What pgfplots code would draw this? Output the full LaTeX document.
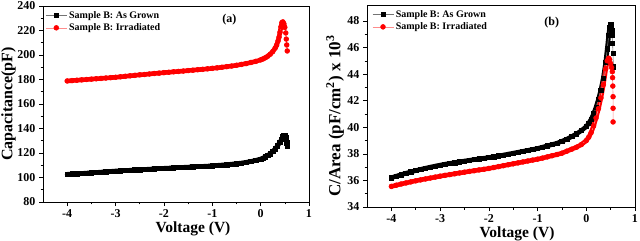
\documentclass[border=0pt]{standalone}
\usepackage{pgfplots}
\pgfplotsset{compat=1.18}
\usepackage{fontspec}
\setmainfont{Liberation Serif}

\pgfplotstableread{
x y
-4.0 102.6
-3.9 102.9
-3.8 103.1
-3.7 103.3
-3.6 103.6
-3.5 103.8
-3.4 104.1
-3.3 104.4
-3.2 104.7
-3.1 105.0
-3.0 105.3
-2.9 105.5
-2.8 105.7
-2.7 105.9
-2.6 106.2
-2.5 106.4
-2.4 106.6
-2.3 106.8
-2.2 107.1
-2.1 107.3
-2.0 107.5
-1.9 107.7
-1.8 107.9
-1.7 108.1
-1.6 108.3
-1.5 108.5
-1.4 108.7
-1.3 108.9
-1.2 109.1
-1.1 109.3
-1.0 109.6
-0.9 109.9
-0.8 110.2
-0.7 110.5
-0.6 110.9
-0.5 111.3
-0.4 111.8
-0.3 112.4
-0.2 113.1
-0.1 114.0
0.0 115.1
0.05 115.9
0.1 116.9
0.15 118.1
0.2 119.5
0.25 121.2
0.3 123.3
0.35 125.8
0.4 128.9
0.43 131.0
0.46 133.2
0.48 134.1
0.50 134.2
0.51 133.6
0.52 132.3
0.53 130.5
0.54 128.4
0.55 126.0
}\agrown

\pgfplotstableread{
x y
-4.0 178.8
-3.9 179.1
-3.8 179.4
-3.7 179.7
-3.6 180.0
-3.5 180.3
-3.4 180.6
-3.3 180.9
-3.2 181.2
-3.1 181.5
-3.0 181.8
-2.9 182.2
-2.8 182.6
-2.7 183.0
-2.6 183.4
-2.5 183.8
-2.4 184.1
-2.3 184.5
-2.2 184.9
-2.1 185.2
-2.0 185.6
-1.9 185.9
-1.8 186.3
-1.7 186.6
-1.6 186.9
-1.5 187.3
-1.4 187.6
-1.3 188.0
-1.2 188.3
-1.1 188.7
-1.0 189.1
-0.9 189.5
-0.8 190.0
-0.7 190.5
-0.6 191.0
-0.5 191.6
-0.4 192.3
-0.3 193.0
-0.2 193.9
-0.1 194.8
0.0 196.0
0.05 196.8
0.1 197.8
0.15 199.1
0.2 200.7
0.25 202.8
0.3 205.6
0.33 208.0
0.36 211.5
0.38 214.5
0.40 218.5
0.42 223.0
0.44 226.5
0.46 227.0
0.48 225.5
0.50 222.5
0.52 218.0
0.53 213.0
0.54 208.2
0.55 203.3
}\airr

\pgfplotstableread{
x y
-4.0 36.20
-3.9 36.32
-3.8 36.43
-3.7 36.54
-3.6 36.64
-3.5 36.74
-3.4 36.83
-3.3 36.92
-3.2 37.00
-3.1 37.08
-3.0 37.15
-2.9 37.22
-2.8 37.28
-2.7 37.34
-2.6 37.40
-2.5 37.46
-2.4 37.51
-2.3 37.57
-2.2 37.62
-2.1 37.67
-2.0 37.72
-1.9 37.78
-1.8 37.84
-1.7 37.91
-1.6 37.98
-1.5 38.05
-1.4 38.12
-1.3 38.19
-1.2 38.26
-1.1 38.33
-1.0 38.4
-0.9 38.5
-0.8 38.6
-0.7 38.7
-0.6 38.8
-0.5 38.95
-0.4 39.1
-0.3 39.3
-0.2 39.5
-0.1 39.75
0.0 40.05
0.05 40.3
0.1 40.6
0.15 41.0
0.2 41.5
0.25 42.1
0.3 42.8
0.35 43.7
0.4 44.9
0.43 45.9
0.46 46.9
0.48 47.5
0.50 47.7
0.51 47.6
0.52 47.3
0.53 46.9
0.54 46.3
0.55 45.55
0.555 44.55
}\bgrown

\pgfplotstableread{
x y
-4.0 35.55
-3.9 35.64
-3.8 35.73
-3.7 35.81
-3.6 35.89
-3.5 35.97
-3.4 36.04
-3.3 36.11
-3.2 36.18
-3.1 36.25
-3.0 36.32
-2.9 36.38
-2.8 36.44
-2.7 36.50
-2.6 36.56
-2.5 36.62
-2.4 36.68
-2.3 36.73
-2.2 36.79
-2.1 36.84
-2.0 36.9
-1.9 36.97
-1.8 37.04
-1.7 37.11
-1.6 37.18
-1.5 37.25
-1.4 37.32
-1.3 37.39
-1.2 37.46
-1.1 37.53
-1.0 37.6
-0.9 37.68
-0.8 37.77
-0.7 37.86
-0.6 37.95
-0.5 38.05
-0.4 38.2
-0.3 38.35
-0.2 38.5
-0.1 38.7
0.0 39.0
0.05 39.25
0.1 39.6
0.15 40.1
0.2 40.7
0.25 41.4
0.3 42.2
0.35 43.2
0.4 44.4
0.43 45.0
0.46 45.2
0.48 45.1
0.50 44.8
0.52 44.5
0.535 44.18
0.54 43.73
0.545 43.1
0.55 42.3
0.55 41.43
0.55 40.4
}\birr

\pgfplotsset{
  mystyle/.style={
    scale only axis,
    xmin=-4.5, xmax=1,
    xtick={-4,-3,-2,-1,0,1},
    minor x tick num=1,
    minor y tick num=1,
    tick align=outside,
    tick pos=left,
    major tick length=4pt,
    minor tick length=2.5pt,
    every tick/.style={black, line width=0.6pt},
    axis line style={line width=0.7pt},
    tick label style={font=\bfseries\fontsize{12}{13}\selectfont},
    /pgf/number format/assume math mode=true,
    legend cell align=left,
    legend style={draw=none, fill=none, font=\bfseries\fontsize{10}{11}\selectfont, row sep=0pt, inner sep=1pt},
    legend image code/.code={\draw[mark repeat=2,mark phase=2] plot coordinates {(0pt,0pt) (10.5pt,0pt) (21pt,0pt)};},
  },
  blk/.style={color=black!55, line width=0.6pt, mark=square*, mark size=2.2pt, mark options={draw=black, fill=black}},
  rd/.style={color=red!45, line width=0.6pt, mark=*, mark size=2.4pt, mark options={draw=red, fill=red}},
  band/.style={line width=4.6pt, line join=round, line cap=round, no marks, forget plot, restrict x to domain=-5:0.51},
}

\begin{document}
\begin{tikzpicture}
\path[use as bounding box] (0,0) rectangle (640pt,241pt);
\begin{axis}[mystyle,
  at={(43pt,39pt)}, anchor=south west, width=266pt, height=196pt,
  ymin=80, ymax=240, ytick={80,100,...,240},
  xlabel={Voltage (V)}, ylabel={Capacitance(pF)},
  every axis x label/.style={at={(axis description cs:0.564,-0.138)}, anchor=center, font=\bfseries\fontsize{15.5}{17}\selectfont},
  every axis y label/.style={at={(axis description cs:-0.13,0.5)}, rotate=90, anchor=center, font=\bfseries\fontsize{16}{18}\selectfont},
  legend style={at={(axis description cs:0.005,0.99)}, anchor=north west},
]
\addplot[band, black] table {\agrown};
\addplot[band, red] table {\airr};
\addplot[blk] table {\agrown};
\addlegendentry{Sample B: As Grown}
\addplot[rd] table {\airr};
\addlegendentry{Sample B: Irradiated}
\node[font=\bfseries\fontsize{12}{13}\selectfont] at (axis cs:-0.646,228.6) {(a)};
\end{axis}

\begin{axis}[mystyle,
  at={(367pt,34pt)}, anchor=south west, width=268pt, height=202pt,
  ymin=34, ymax=49.2, ytick={34,36,...,48},
  xlabel={Voltage (V)}, ylabel={C/Area (pF/cm\textsuperscript{2}) x 10\textsuperscript{3}},
  every axis x label/.style={at={(axis description cs:0.56,-0.135)}, anchor=center, font=\bfseries\fontsize{15.5}{17}\selectfont},
  every axis y label/.style={at={(axis description cs:-0.119,0.45)}, rotate=90, anchor=center, font=\bfseries\fontsize{17}{19}\selectfont},
  legend style={at={(axis description cs:0.015,0.99)}, anchor=north west},
]
\addplot[band, black] table {\bgrown};
\addplot[band, red, restrict x to domain=-5:0.47] table {\birr};
\addplot[blk] table {\bgrown};
\addlegendentry{Sample B: As Grown}
\addplot[rd] table {\birr};
\addlegendentry{Sample B: Irradiated}
\node[font=\bfseries\fontsize{12}{13}\selectfont] at (axis cs:-0.71,47.85) {(b)};
\end{axis}
\end{tikzpicture}
\end{document}
